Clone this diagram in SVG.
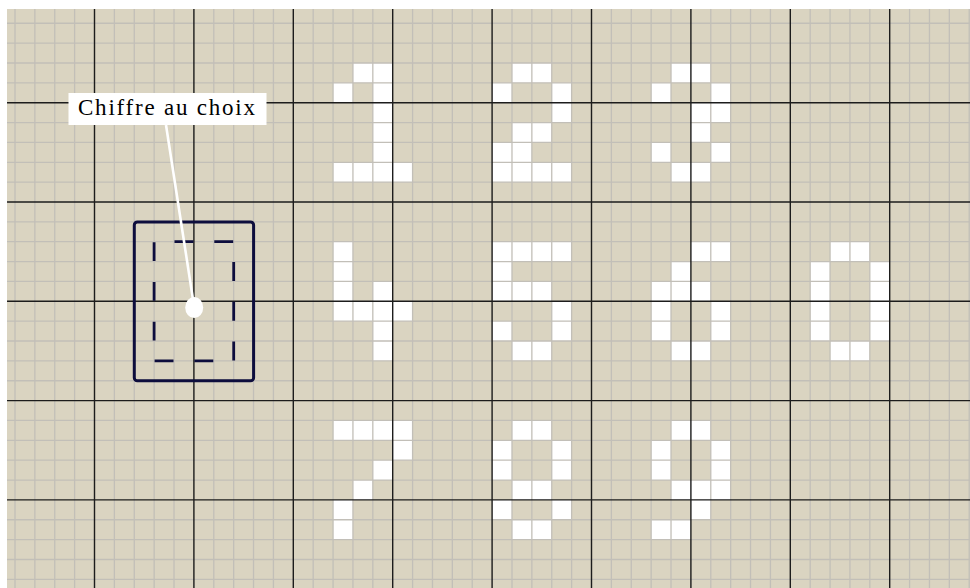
<svg xmlns="http://www.w3.org/2000/svg" width="970" height="588" viewBox="0 0 970 588">
<style>
.minor{fill:none;stroke:#c2bfb8;stroke-width:1.3}
.major{fill:none;stroke:#1c1c1c;stroke-width:1.4}
.px{fill:#ffffff}
.nav{fill:none;stroke:#0d0d3d;stroke-width:3}
.dash{fill:none;stroke:#0d0d3d;stroke-width:2.8}
.label{font-family:"Liberation Serif","Times New Roman",serif;font-size:23px;fill:#000}
</style>
<rect x="0" y="0" width="970" height="588" fill="#ffffff"/>
<rect x="7" y="9" width="963" height="579" fill="#dad4c1"/>
<g transform="translate(94.5,102.7) scale(19.88,19.86)">
<g id="digit-1">
<rect class="px" x="13" y="-2" width="2" height="1"/>
<rect class="px" x="12" y="-1" width="1" height="1"/>
<rect class="px" x="14" y="-1" width="1" height="4"/>
<rect class="px" x="12" y="3" width="4" height="1"/>
</g>
<g id="digit-2">
<rect class="px" x="21" y="-2" width="2" height="1"/>
<rect class="px" x="20" y="-1" width="1" height="1"/>
<rect class="px" x="23" y="-1" width="1" height="2"/>
<rect class="px" x="21" y="1" width="2" height="1"/>
<rect class="px" x="20" y="2" width="2" height="1"/>
<rect class="px" x="20" y="3" width="4" height="1"/>
</g>
<g id="digit-3">
<rect class="px" x="29" y="-2" width="2" height="1"/>
<rect class="px" x="28" y="-1" width="1" height="1"/>
<rect class="px" x="31" y="-1" width="1" height="2"/>
<rect class="px" x="30" y="0" width="1" height="2"/>
<rect class="px" x="28" y="2" width="1" height="1"/>
<rect class="px" x="31" y="2" width="1" height="1"/>
<rect class="px" x="29" y="3" width="2" height="1"/>
</g>
<g id="digit-4">
<rect class="px" x="12" y="7" width="1" height="4"/>
<rect class="px" x="14" y="9" width="1" height="4"/>
<rect class="px" x="13" y="10" width="1" height="1"/>
<rect class="px" x="15" y="10" width="1" height="1"/>
</g>
<g id="digit-5">
<rect class="px" x="20" y="7" width="4" height="1"/>
<rect class="px" x="20" y="8" width="1" height="1"/>
<rect class="px" x="20" y="9" width="3" height="1"/>
<rect class="px" x="23" y="10" width="1" height="2"/>
<rect class="px" x="20" y="11" width="1" height="1"/>
<rect class="px" x="21" y="12" width="2" height="1"/>
</g>
<g id="digit-6">
<rect class="px" x="30" y="7" width="2" height="1"/>
<rect class="px" x="29" y="8" width="1" height="1"/>
<rect class="px" x="28" y="9" width="3" height="1"/>
<rect class="px" x="28" y="10" width="1" height="2"/>
<rect class="px" x="31" y="10" width="1" height="2"/>
<rect class="px" x="29" y="12" width="2" height="1"/>
</g>
<g id="digit-0">
<rect class="px" x="37" y="7" width="2" height="1"/>
<rect class="px" x="36" y="8" width="1" height="4"/>
<rect class="px" x="39" y="8" width="1" height="4"/>
<rect class="px" x="37" y="12" width="2" height="1"/>
</g>
<g id="digit-7">
<rect class="px" x="12" y="16" width="4" height="1"/>
<rect class="px" x="15" y="17" width="1" height="1"/>
<rect class="px" x="14" y="18" width="1" height="1"/>
<rect class="px" x="13" y="19" width="1" height="1"/>
<rect class="px" x="12" y="20" width="1" height="2"/>
</g>
<g id="digit-8">
<rect class="px" x="21" y="16" width="2" height="1"/>
<rect class="px" x="20" y="17" width="1" height="2"/>
<rect class="px" x="23" y="17" width="1" height="2"/>
<rect class="px" x="21" y="19" width="2" height="1"/>
<rect class="px" x="20" y="20" width="1" height="1"/>
<rect class="px" x="23" y="20" width="1" height="1"/>
<rect class="px" x="21" y="21" width="2" height="1"/>
</g>
<g id="digit-9">
<rect class="px" x="29" y="16" width="2" height="1"/>
<rect class="px" x="28" y="17" width="1" height="2"/>
<rect class="px" x="31" y="17" width="1" height="2"/>
<rect class="px" x="29" y="19" width="3" height="1"/>
<rect class="px" x="30" y="20" width="1" height="1"/>
<rect class="px" x="28" y="21" width="2" height="1"/>
</g>
<g id="grid">
<path class="minor" vector-effect="non-scaling-stroke" d="M-4 -4.72V24.44M-3 -4.72V24.44M-2 -4.72V24.44M-1 -4.72V24.44M1 -4.72V24.44M2 -4.72V24.44M3 -4.72V24.44M4 -4.72V24.44M6 -4.72V24.44M7 -4.72V24.44M8 -4.72V24.44M9 -4.72V24.44M11 -4.72V24.44M12 -4.72V24.44M13 -4.72V24.44M14 -4.72V24.44M16 -4.72V24.44M17 -4.72V24.44M18 -4.72V24.44M19 -4.72V24.44M21 -4.72V24.44M22 -4.72V24.44M23 -4.72V24.44M24 -4.72V24.44M26 -4.72V24.44M27 -4.72V24.44M28 -4.72V24.44M29 -4.72V24.44M31 -4.72V24.44M32 -4.72V24.44M33 -4.72V24.44M34 -4.72V24.44M36 -4.72V24.44M37 -4.72V24.44M38 -4.72V24.44M39 -4.72V24.44M41 -4.72V24.44M42 -4.72V24.44M43 -4.72V24.44M44 -4.72V24.44"/>
<path class="minor" vector-effect="non-scaling-stroke" d="M-4.4 -4H44.1M-4.4 -3H44.1M-4.4 -2H44.1M-4.4 -1H44.1M-4.4 1H44.1M-4.4 2H44.1M-4.4 3H44.1M-4.4 4H44.1M-4.4 6H44.1M-4.4 7H44.1M-4.4 8H44.1M-4.4 9H44.1M-4.4 11H44.1M-4.4 12H44.1M-4.4 13H44.1M-4.4 14H44.1M-4.4 16H44.1M-4.4 17H44.1M-4.4 18H44.1M-4.4 19H44.1M-4.4 21H44.1M-4.4 22H44.1M-4.4 23H44.1M-4.4 24H44.1"/>
<path class="major" vector-effect="non-scaling-stroke" d="M0 -4.72V24.44M5 -4.72V24.44M10 -4.72V24.44M15 -4.72V24.44M20 -4.72V24.44M25 -4.72V24.44M30 -4.72V24.44M35 -4.72V24.44M40 -4.72V24.44M-4.4 0H44.1M-4.4 5H44.1M-4.4 10H44.1M-4.4 15H44.1M-4.4 20H44.1"/>
</g>
</g>
<g id="selector">
<rect class="nav" x="134.3" y="221.9" width="119.3" height="158.9" rx="3"/>
<path class="dash" d="M174.5 241.7H193.4M214.3 241.7H233.2M233.7 262.1V280.9M233.7 301.8V320.7M233.7 341.5V360.4M194.4 360.9H213.3M154.6 360.9H173.5M154.1 242.2V261.1M154.1 281.9V300.8M154.1 321.7V340.5"/>
</g>
<g id="connectors">
<line x1="166" y1="125" x2="194" y2="306" stroke="#ffffff" stroke-width="2.6"/>
<ellipse cx="194.2" cy="307.5" rx="9" ry="10.6" fill="#ffffff"/>
</g>
<g id="label">
<rect x="68.5" y="93" width="198" height="32" fill="#ffffff"/>
<text class="label" x="78" y="115" textLength="177" lengthAdjust="spacing">Chiffre au choix</text>
</g>
</svg>
